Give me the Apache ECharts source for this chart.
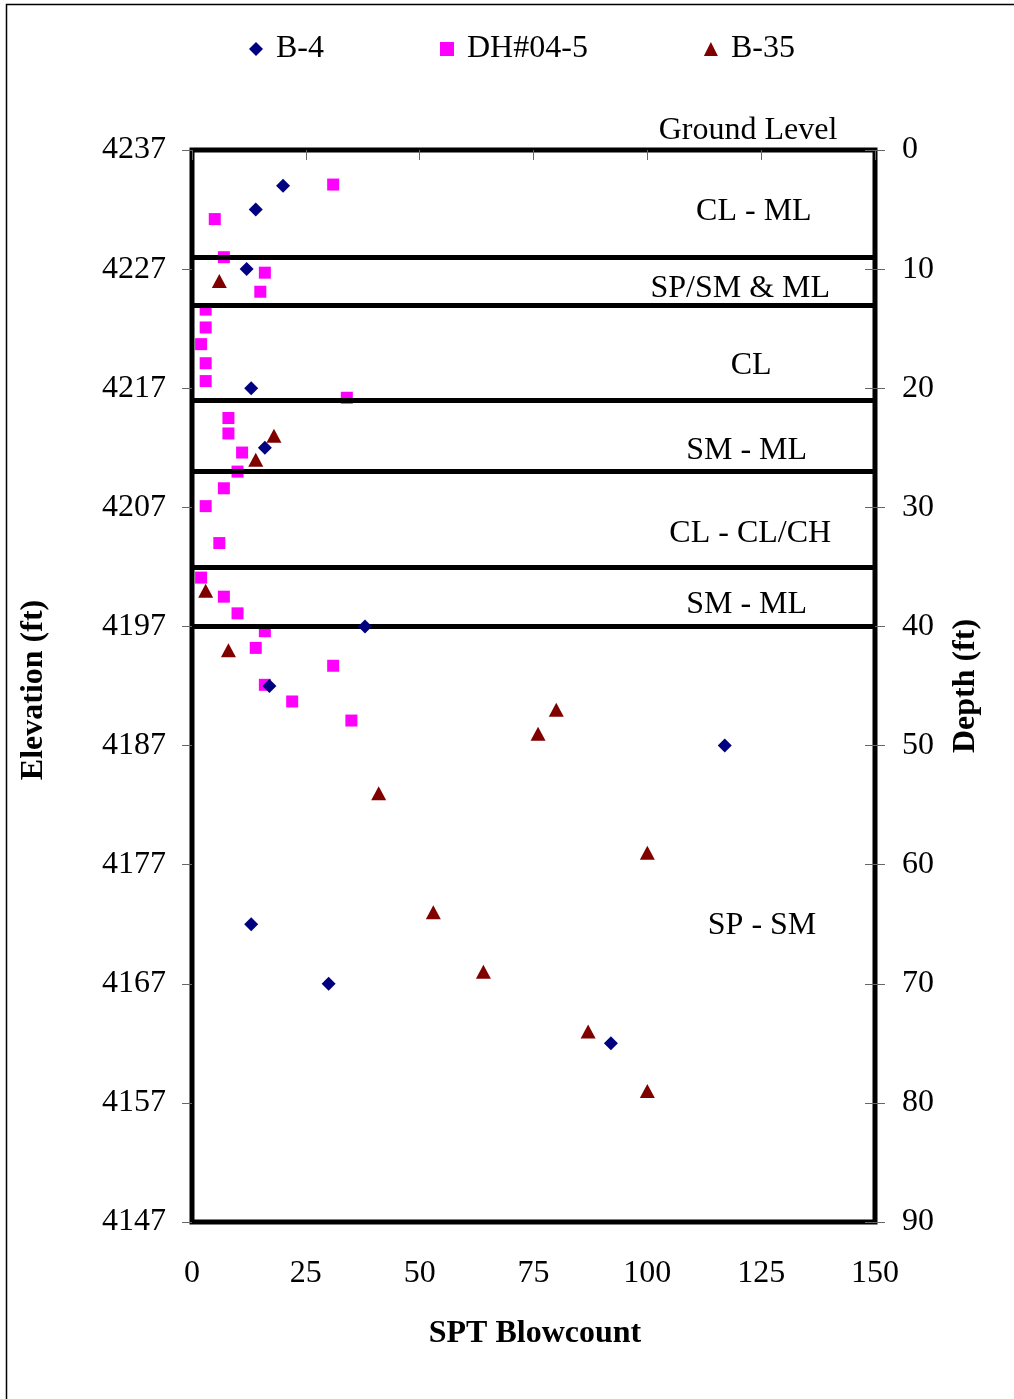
<!DOCTYPE html>
<html>
<head>
<meta charset="utf-8">
<script src="https://cdn.jsdelivr.net/npm/echarts@6/dist/echarts.min.js"></script>
<style>
html,body{margin:0;padding:0;background:#fff;}
#chart{width:1014px;height:1399px;}
</style>
</head>
<body>
<div id="chart"></div>
<script>
// ---- data (x = SPT blowcount, y = depth in ft) ----
const GROUND_ELEVATION = 4237;
const xTicks = [0, 25, 50, 75, 100, 125, 150];
const depthTicks = [0, 10, 20, 30, 40, 50, 60, 70, 80, 90];

const b4Blow  = [20, 14, 12, 13, 16, 38, 17, 117, 13, 30, 92];
const b4Depth = [3, 5, 10, 20, 25, 40, 45, 50, 65, 70, 75];

const dhBlow  = [31, 5, 7, 16, 15, 3, 3, 2, 3, 3, 34, 8, 8, 11, 10, 7, 3, 6, 2, 7, 10, 16, 14, 31, 16, 22, 35];
const dhDepth = [2.9, 5.8, 9.0, 10.3, 11.9, 13.4, 14.9, 16.3, 17.9, 19.4, 20.8, 22.5, 23.8, 25.4, 27.0, 28.4, 29.9, 33.0, 35.9, 37.5, 38.9, 40.4, 41.8, 43.3, 44.9, 46.3, 47.9];

const b35Blow  = [6, 18, 14, 3, 8, 80, 76, 41, 100, 53, 64, 87, 100];
const b35Depth = [11, 24, 26, 37, 42, 47, 49, 54, 59, 64, 69, 74, 79];

const layerBoundaries = [9, 13, 21, 27, 35, 40];
const layerNames  = ['Ground Level', 'CL - ML', 'SP/SM & ML', 'CL', 'SM - ML', 'CL - CL/CH', 'SM - ML', 'SP - SM'];
const layerLabelX = [122.1, 123.4, 120.4, 122.8, 121.8, 122.6, 121.8, 125.2];
const layerLabelDepth = [-1.6, 5.2, 11.6, 18.1, 25.2, 32.2, 38.2, 65.15];

const seriesNames = ['B-4', 'DH#04-5', 'B-35'];

const zip = (a, b) => a.map((v, i) => [v, b[i]]);
const FONT = "'Liberation Serif', 'Times New Roman', serif";
const tickStyle = {color: '#666', width: 1};

const chart = echarts.init(document.getElementById('chart'), null, {renderer: 'canvas'});
const option = {
  animation: false,
  backgroundColor: '#fff',
  textStyle: {fontFamily: FONT, color: '#000'},
  legend: {
    data: seriesNames,
    left: 249,
    top: 33,
    padding: 0,
    itemWidth: 14,
    itemHeight: 14,
    itemGap: 116,
    itemTextGap: 12,
    textStyle: {fontFamily: FONT, fontSize: 32, color: '#000', padding: [0, 0, 0, 8]}
  },
  grid: {
    left: 192, right: 139, top: 150, bottom: 177,
    show: true, borderWidth: 5, borderColor: '#000', backgroundColor: 'transparent'
  },
  xAxis: {
    type: 'value', min: 0, max: 150, interval: 25,
    axisLine: {show: false},
    axisTick: {show: true, length: 10, lineStyle: tickStyle},
    splitLine: {show: false},
    axisLabel: {margin: 36, fontFamily: FONT, fontSize: 32, color: '#000'}
  },
  yAxis: [
    {
      type: 'value', min: 0, max: 90, interval: 10, inverse: true, position: 'left',
      axisLine: {show: false},
      axisTick: {show: true, length: 10, lineStyle: tickStyle},
      splitLine: {show: false},
      axisLabel: {margin: 26, fontFamily: FONT, fontSize: 32, color: '#000',
        formatter: v => String(GROUND_ELEVATION - v)}
    },
    {
      type: 'value', min: 0, max: 90, interval: 10, inverse: true, position: 'right',
      axisLine: {show: false},
      axisTick: {show: true, length: 10, lineStyle: tickStyle},
      splitLine: {show: false},
      axisLabel: {margin: 27, fontFamily: FONT, fontSize: 32, color: '#000'}
    },
    {
      type: 'value', min: 0, max: 90, interval: 10, inverse: true, position: 'right',
      axisLine: {show: false},
      axisTick: {show: true, inside: true, length: 10, lineStyle: tickStyle},
      splitLine: {show: false},
      axisLabel: {show: false}
    }
  ],
  series: [
    {
      name: 'B-4', type: 'scatter', yAxisIndex: 1, symbol: 'diamond', symbolSize: 14,
      itemStyle: {color: '#000080', opacity: 1}, data: zip(b4Blow, b4Depth), z: 5
    },
    {
      name: 'DH#04-5', type: 'scatter', yAxisIndex: 1, symbol: 'rect', symbolSize: 12,
      itemStyle: {color: '#FF00FF', opacity: 1}, data: zip(dhBlow, dhDepth), z: 4
    },
    {
      name: 'B-35', type: 'scatter', yAxisIndex: 1, symbol: 'triangle', symbolSize: [15, 14],
      itemStyle: {color: '#800000', opacity: 1}, data: zip(b35Blow, b35Depth), z: 6
    },
    {
      name: 'layers', type: 'scatter', yAxisIndex: 1, symbolSize: 0, clip: false, silent: true,
      itemStyle: {opacity: 1},
      data: layerNames.map((n, i) => ({value: [layerLabelX[i], layerLabelDepth[i]], name: n})),
      label: {show: true, position: 'inside', formatter: p => p.name,
        fontFamily: FONT, fontSize: 32, color: '#000'},
      markLine: {
        silent: true, symbol: ['none', 'none'], label: {show: false},
        lineStyle: {color: '#000', width: 5, type: 'solid', opacity: 1},
        data: layerBoundaries.map(d => ({yAxis: d}))
      },
      z: 3
    }
  ],
  graphic: [
    {type: 'rect', shape: {x: 6.5, y: 4.5, width: 2000, height: 2000},
      style: {fill: 'none', stroke: '#000', lineWidth: 1.5}, silent: true, z: -1},
    {type: 'text', x: 34, y: 690, rotation: Math.PI / 2,
      style: {text: 'Elevation (ft)', font: "bold 32px 'Liberation Serif', 'Times New Roman', serif",
        fill: '#000', align: 'center', verticalAlign: 'middle'}},
    {type: 'text', x: 966, y: 686, rotation: Math.PI / 2,
      style: {text: 'Depth (ft)', font: "bold 32px 'Liberation Serif', 'Times New Roman', serif",
        fill: '#000', align: 'center', verticalAlign: 'middle'}},
    {type: 'text', x: 535, y: 1334,
      style: {text: 'SPT Blowcount', font: "bold 32px 'Liberation Serif', 'Times New Roman', serif",
        fill: '#000', align: 'center', verticalAlign: 'middle'}}
  ]
};
chart.setOption(option);
</script>
</body>
</html>
